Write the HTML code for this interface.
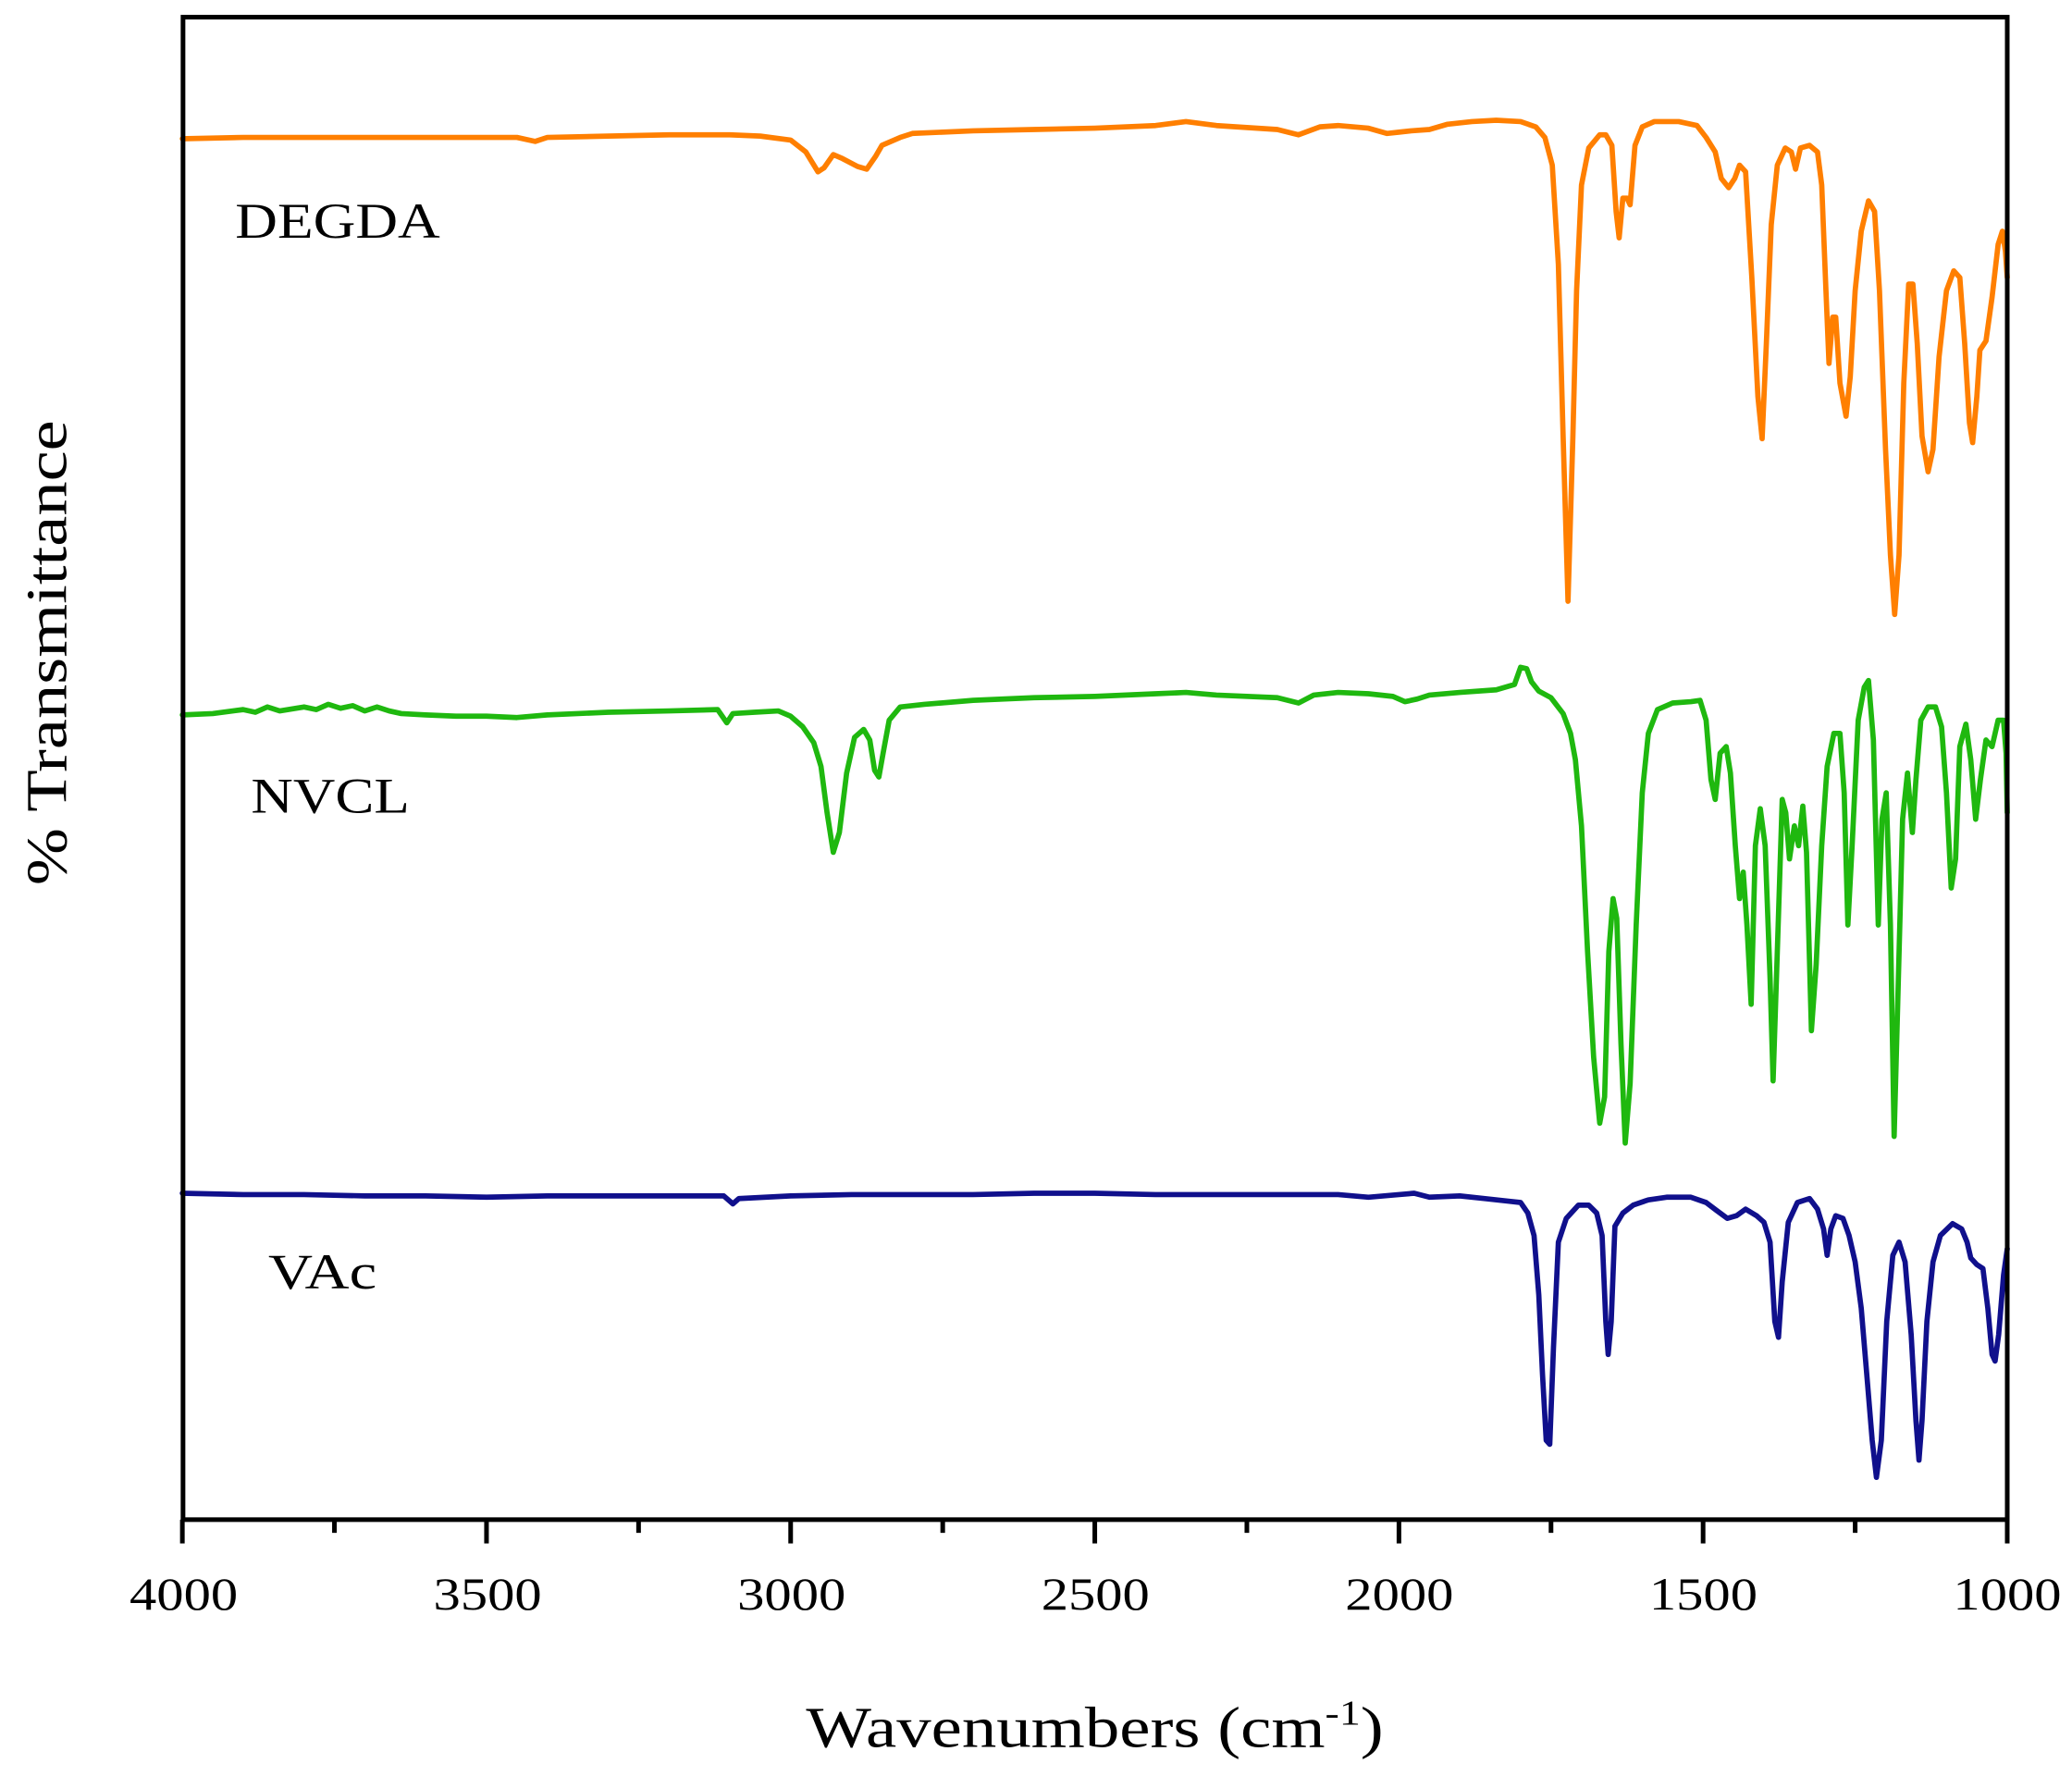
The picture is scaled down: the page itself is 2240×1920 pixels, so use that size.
<!DOCTYPE html>
<html><head><meta charset="utf-8"><style>
html,body{margin:0;padding:0;background:#fff}
svg{display:block}
text{font-family:"Liberation Serif",serif;fill:#000}
</style></head><body>
<svg id="s" width="2240" height="1920" viewBox="0 0 1568 1344" xmlns="http://www.w3.org/2000/svg">
<rect x="0" y="0" width="1568" height="1344" fill="#fff"/>
<g id="curves" fill="none" stroke-width="4" stroke-linejoin="round" stroke-linecap="round"></g>
<rect x="138.5" y="13" width="1380.5" height="1137" fill="none" stroke="#000" stroke-width="3.5"/>
<g id="ticks" stroke="#000" stroke-width="3.5"></g>
<g font-size="35" text-anchor="middle">
<text x="139" y="1218" textLength="82" lengthAdjust="spacingAndGlyphs">4000</text>
<text x="369" y="1218" textLength="82" lengthAdjust="spacingAndGlyphs">3500</text>
<text x="599" y="1218" textLength="82" lengthAdjust="spacingAndGlyphs">3000</text>
<text x="829" y="1218" textLength="82" lengthAdjust="spacingAndGlyphs">2500</text>
<text x="1059" y="1218" textLength="82" lengthAdjust="spacingAndGlyphs">2000</text>
<text x="1289" y="1218" textLength="82" lengthAdjust="spacingAndGlyphs">1500</text>
<text x="1519" y="1218" textLength="82" lengthAdjust="spacingAndGlyphs">1000</text>
</g>
<text x="610" y="1322" font-size="44" textLength="437" lengthAdjust="spacingAndGlyphs">Wavenumbers (cm<tspan font-size="27" dy="-17">-1</tspan><tspan dy="17">)</tspan></text>
<text transform="translate(50,494) rotate(-90)" font-size="44" text-anchor="middle" textLength="352" lengthAdjust="spacingAndGlyphs">% Transmittance</text>
<text x="178" y="180" font-size="38" textLength="155" lengthAdjust="spacingAndGlyphs">DEGDA</text>
<text x="190" y="615" font-size="38" textLength="120" lengthAdjust="spacingAndGlyphs">NVCL</text>
<text x="203" y="975" font-size="38" textLength="82" lengthAdjust="spacingAndGlyphs">VAc</text>
</svg>
<script>
function X(w){return 138+(4000-w)*0.46033;}
var D={
"#FF7F00":[4000,105,3900,104,3800,104,3700,104,3600,104,3500,104,3450,104,3420,107,3400,104,3300,103,3200,102,3100,102,3050,103,3000,106,2975,115,2955,130,2945,127,2930,117,2915,120,2890,126,2875,128,2860,118,2850,110,2820,104,2800,101,2700,99,2600,98,2500,97,2400,95,2350,92,2300,95,2200,98,2165,102,2130,96,2100,95,2050,97,2020,101,2000,100,1980,99,1950,98,1920,94,1880,92,1840,91,1800,92,1775,96,1760,104,1748,125,1738,200,1730,330,1722,455,1714,330,1708,220,1700,140,1688,112,1670,102,1660,102,1650,110,1643,160,1638,180,1632,150,1625,150,1620,155,1612,110,1600,96,1580,92,1540,92,1510,95,1495,104,1480,115,1470,135,1458,142,1448,135,1440,125,1430,130,1420,210,1410,300,1403,332,1396,260,1388,170,1378,125,1365,112,1355,115,1348,128,1340,112,1325,110,1312,115,1305,140,1298,220,1293,275,1287,240,1282,240,1275,290,1265,315,1258,285,1250,220,1240,175,1228,152,1218,160,1210,220,1200,340,1192,420,1185,465,1178,420,1170,290,1162,215,1155,215,1148,260,1140,330,1130,357,1122,340,1112,270,1100,220,1088,205,1078,210,1070,260,1062,320,1057,335,1050,300,1045,265,1035,258,1025,225,1015,185,1008,175,1003,190,1000,210],
"#1FB80F":[4000,541,3950,540,3900,537,3880,539,3860,535,3840,538,3800,535,3780,537,3760,533,3740,536,3720,534,3700,538,3680,535,3660,538,3640,540,3600,541,3550,542,3500,542,3450,543,3400,541,3300,539,3200,538,3120,537,3105,547,3095,540,3060,539,3020,538,3000,542,2980,550,2962,562,2950,580,2940,615,2930,645,2920,630,2908,585,2895,558,2880,552,2870,560,2862,583,2855,588,2848,570,2838,545,2820,535,2780,533,2700,530,2600,528,2500,527,2400,525,2350,524,2300,526,2200,528,2165,532,2140,526,2100,524,2050,525,2010,527,1990,531,1970,529,1950,526,1900,524,1840,522,1810,518,1800,505,1790,506,1782,516,1770,523,1750,528,1730,540,1718,555,1710,575,1700,625,1690,720,1680,800,1670,850,1662,830,1655,720,1648,680,1642,695,1635,790,1628,865,1620,820,1610,700,1600,600,1590,555,1575,537,1550,532,1520,531,1505,530,1495,545,1487,590,1480,605,1472,570,1462,565,1455,585,1447,640,1440,680,1434,660,1428,700,1421,760,1414,640,1406,612,1398,640,1390,740,1385,818,1378,720,1370,605,1364,615,1358,650,1350,625,1343,640,1336,610,1330,645,1322,780,1314,730,1305,640,1296,580,1285,555,1275,555,1268,600,1262,700,1255,640,1245,545,1235,520,1228,515,1220,560,1212,700,1206,620,1199,600,1192,700,1186,860,1180,760,1172,620,1164,585,1156,630,1150,590,1142,545,1130,535,1118,535,1108,550,1100,600,1092,672,1085,650,1078,565,1068,548,1060,575,1052,620,1044,590,1035,560,1025,565,1015,545,1006,545,1002,570,1000,615],
"#10108C":[4000,903,3900,904,3800,904,3700,905,3600,905,3500,906,3400,905,3300,905,3200,905,3110,905,3095,911,3085,907,3000,905,2900,904,2800,904,2700,904,2600,903,2500,903,2400,904,2300,904,2200,904,2100,904,2050,906,2000,904,1975,903,1950,906,1900,905,1860,907,1820,909,1800,910,1788,918,1778,935,1770,980,1764,1040,1758,1090,1752,1093,1746,1020,1738,940,1725,922,1705,912,1688,912,1675,918,1666,935,1660,1000,1656,1025,1651,1000,1645,928,1632,918,1615,912,1590,908,1560,906,1520,906,1495,910,1478,916,1460,922,1445,920,1430,915,1412,920,1400,925,1390,940,1382,1000,1376,1012,1370,970,1360,925,1345,910,1325,907,1312,915,1302,930,1296,950,1290,930,1282,920,1270,922,1260,935,1250,955,1240,990,1230,1045,1222,1090,1215,1118,1207,1090,1198,1000,1188,950,1178,940,1168,955,1158,1010,1150,1075,1145,1105,1140,1075,1132,1000,1122,955,1110,935,1090,926,1075,930,1066,940,1060,952,1050,957,1040,960,1032,990,1025,1025,1020,1030,1014,1010,1006,965,1000,945]
};
var ns="http://www.w3.org/2000/svg",g=document.getElementById("curves");
for(var c in D){var a=D[c],d="";for(var i=0;i<a.length;i+=2){d+=(i?"L":"M")+X(a[i]).toFixed(1)+","+a[i+1];}
var p=document.createElementNS(ns,"path");p.setAttribute("d",d);p.setAttribute("stroke",c);g.appendChild(p);}
var t=document.getElementById("ticks");
for(var w=4000;w>=1000;w-=250){var x=X(w),maj=(w%500==0);var l=document.createElementNS(ns,"line");
l.setAttribute("x1",x);l.setAttribute("x2",x);l.setAttribute("y1",1150);l.setAttribute("y2",maj?1168:1160);t.appendChild(l);}
</script>
</body></html>
